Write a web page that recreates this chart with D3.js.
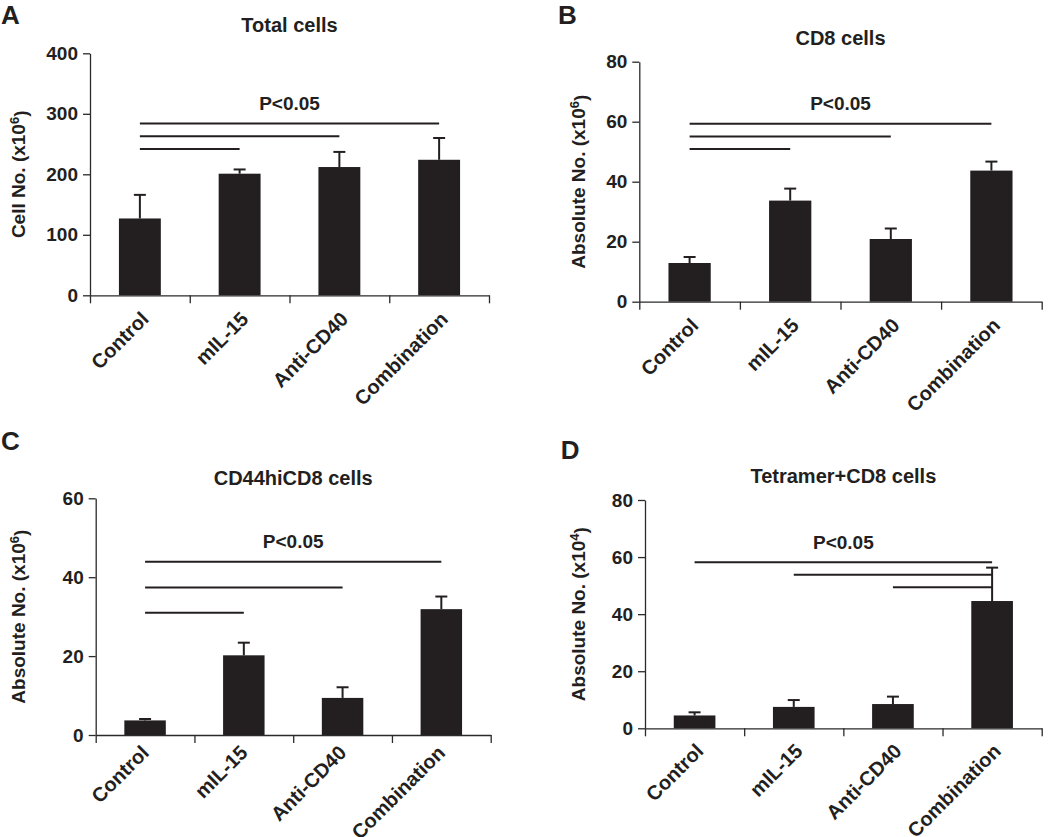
<!DOCTYPE html>
<html>
<head>
<meta charset="utf-8">
<script src="https://cdn.jsdelivr.net/npm/d3@7.9.0/dist/d3.min.js"></script>
<style>
  body { margin: 0; background: #fff; }
  svg { display: block; font-family: "Liberation Sans", Arial, sans-serif; font-weight: bold; }
</style>
</head>
<body>
<svg width="1050" height="837"></svg>
<script>
// groups on the x axis (same in all four panels)
const categories = ['Control', 'mIL-15', 'Anti-CD40', 'Combination'];

// A: total cells (x10^6)
const totalMean = [127, 201, 212, 224];
const totalSem = [39, 7, 25, 36];
const totalTicks = [0, 100, 200, 300, 400];
// significance lines: [from group, to group, height]
const totalSig = [[0, 3, 284], [0, 2, 263], [0, 1, 242]];

// B: CD8 cells (x10^6)
const cd8Mean = [12.9, 33.7, 20.9, 43.7];
const cd8Sem = [2.0, 4.0, 3.5, 3.0];
const cd8Ticks = [0, 20, 40, 60, 80];
const cd8Sig = [[0, 3, 59.3], [0, 2, 55.1], [0, 1, 50.9]];

// C: CD44hiCD8 cells (x10^6)
const cd44Mean = [3.7, 20.2, 9.4, 31.9];
const cd44Sem = [0.35, 3.2, 2.7, 3.2];
const cd44Ticks = [0, 20, 40, 60];
const cd44Sig = [[0, 3, 43.9], [0, 2, 37.4], [0, 1, 31.0]];

// D: Tetramer+CD8 cells (x10^4)
const tetMean = [4.5, 7.5, 8.5, 44.6];
const tetSem = [1.1, 2.4, 2.6, 11.7];
const tetTicks = [0, 20, 40, 60, 80];
const tetSig = [[0, 3, 58.2], [1, 3, 53.8], [2, 3, 49.4]];

const panels = [
  { letter: 'A', title: 'Total cells', ylab: 'Cell No. (x10', exp: '6', mean: totalMean, sem: totalSem, ticks: totalTicks, sig: totalSig,
    left: 90, right: 489, top: 53.3, bottom: 295.3, titleY: 32, letterX: 1, letterY: 23.5, labX: 18, lx: 10, ly: 25 },
  { letter: 'B', title: 'CD8 cells', ylab: 'Absolute No. (x10', exp: '6', mean: cd8Mean, sem: cd8Sem, ticks: cd8Ticks, sig: cd8Sig,
    left: 639.3, right: 1041.7, top: 61.7, bottom: 301.7, titleY: 45, letterX: 558, letterY: 23.5, labX: 578, lx: 10, ly: 25 },
  { letter: 'C', title: 'CD44hiCD8 cells', ylab: 'Absolute No. (x10', exp: '6', mean: cd44Mean, sem: cd44Sem, ticks: cd44Ticks, sig: cd44Sig,
    left: 95.7, right: 490.7, top: 498.3, bottom: 735, titleY: 485, letterX: 1, letterY: 450, labX: 18, lx: 5, ly: 19 },
  { letter: 'D', title: 'Tetramer+CD8 cells', ylab: 'Absolute No. (x10', exp: '4', mean: tetMean, sem: tetSem, ticks: tetTicks, sig: tetSig,
    left: 645, right: 1041.7, top: 500, bottom: 728.3, titleY: 483, letterX: 560.7, letterY: 459, labX: 578, lx: 10, ly: 24 }
];

const ink = '#231f20';
const svg = d3.select('svg');

panels.forEach((p) => {
  const g = svg.append('g');
  const x = d3.scaleBand().domain(categories).range([p.left, p.right]).paddingInner(0.58).paddingOuter(0.29);
  const xb = d3.scaleLinear().domain([0, categories.length]).range([p.left, p.right]);
  const y = d3.scaleLinear().domain([0, d3.max(p.ticks)]).range([p.bottom, p.top]);
  const cx = (i) => x(categories[i]) + x.bandwidth() / 2;
  const midX = (p.left + p.right) / 2;

  // bars
  g.selectAll('rect.bar').data(p.mean).join('rect')
    .attr('x', (d, i) => x(categories[i]))
    .attr('y', (d) => y(d))
    .attr('width', x.bandwidth())
    .attr('height', (d) => y(0) - y(d))
    .attr('fill', ink);

  // error bars (upper only)
  p.mean.forEach((m, i) => {
    const top = y(m + p.sem[i]);
    g.append('line').attr('x1', cx(i)).attr('x2', cx(i)).attr('y1', y(m)).attr('y2', top)
      .attr('stroke', ink).attr('stroke-width', 2);
    g.append('line').attr('x1', cx(i) - 6).attr('x2', cx(i) + 6).attr('y1', top).attr('y2', top)
      .attr('stroke', ink).attr('stroke-width', 2);
  });

  // axes
  const ya = g.append('g').attr('transform', `translate(${p.left},0)`)
    .call(d3.axisLeft(y).tickValues(p.ticks).tickSize(7).tickSizeOuter(0).tickPadding(5));
  const xa = g.append('g').attr('transform', `translate(0,${p.bottom})`)
    .call(d3.axisBottom(xb).ticks(categories.length).tickFormat('').tickSize(8).tickSizeOuter(0));
  [ya, xa].forEach((a) => {
    a.selectAll('path, line').attr('stroke', '#2a2a2a').attr('stroke-width', 1.3);
    a.selectAll('text').attr('fill', ink).style('font-size', '19px').style('font-weight', 'bold');
  });

  // rotated category labels
  categories.forEach((c, i) => {
    g.append('text')
      .attr('transform', `translate(${cx(i) + p.lx},${p.bottom + p.ly}) rotate(-45)`)
      .attr('text-anchor', 'end')
      .attr('fill', ink)
      .style('font-size', '20px')
      .text(c);
  });

  // significance lines
  p.sig.forEach(([a, b, h]) => {
    g.append('line').attr('x1', cx(a)).attr('x2', cx(b)).attr('y1', y(h)).attr('y2', y(h))
      .attr('stroke', ink).attr('stroke-width', 2);
  });
  const topSig = d3.max(p.sig, (s) => s[2]);
  g.append('text').attr('x', midX).attr('y', y(topSig) - 13.5).attr('text-anchor', 'middle')
    .attr('fill', ink).style('font-size', '19px').text('P<0.05');

  // title
  g.append('text').attr('x', midX).attr('y', p.titleY).attr('text-anchor', 'middle')
    .attr('fill', ink).style('font-size', '20px').text(p.title);

  // panel letter
  g.append('text').attr('x', p.letterX).attr('y', p.letterY)
    .attr('fill', ink).style('font-size', '26px').text(p.letter);

  // y label with superscript exponent
  const yl = g.append('text')
    .attr('transform', `translate(${p.labX},${(p.top + p.bottom) / 2}) rotate(-90)`)
    .attr('text-anchor', 'middle').attr('dy', '0.35em')
    .attr('fill', ink).style('font-size', '19px');
  yl.append('tspan').text(p.ylab);
  yl.append('tspan').attr('dy', '-0.45em').style('font-size', '13px').text(p.exp);
  yl.append('tspan').attr('dy', '0.45em').text(')');
});
</script>
</body>
</html>
